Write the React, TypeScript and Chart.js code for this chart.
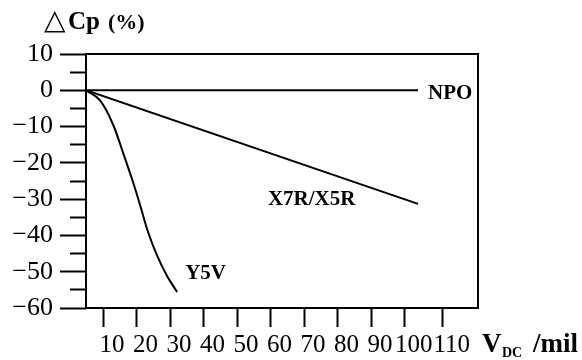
import React, { useEffect, useRef } from "react";
import { Chart, registerables } from "chart.js";

Chart.register(...registerables);

// x tick positions as drawn in the original (its last tick sits a little further right)
const xTickValues = [10, 20, 30, 40, 50, 60, 70, 80, 90, 100, 111.4];
const xTickLabels = ["10", "20", "30", "40", "50", "60", "70", "80", "90", "100", "110"];
const yTicks = [-60, -55, -50, -45, -40, -35, -30, -25, -20, -15, -10, -5, 0, 5, 10];

const npoX = [4.9, 104.0];
const npoY = [0, 0];
const x7rX = [4.9, 104.0];
const x7rY = [0, -31.3];
const y5vX = [4.9, 9.1, 13.0, 16.0, 19.0, 21.0, 23.4, 26.1, 29.1, 32.1];
const y5vY = [0, -2.8, -9.5, -17.3, -25.5, -31.5, -39, -45.5, -51.2, -55.6];

const seriesLabels = [
  { text: "NPO", x: 107.0, y: -0.9 },
  { text: "X7R/X5R", x: 59.2, y: -30.2 },
  { text: "Y5V", x: 34.5, y: -50.4 },
];

const SERIF = '"Liberation Serif", "Times New Roman", serif';

const toPts = (xs: number[], ys: number[]) => xs.map((x, i) => ({ x, y: ys[i] }));

const fmt = (v: number) => (v < 0 ? "\u2212" + Math.abs(v) : String(v));

const decor = {
  id: "decor",
  afterDraw(chart: any) {
    const { ctx, chartArea, scales } = chart;
    ctx.save();
    ctx.strokeStyle = "#000";
    ctx.lineWidth = 2;
    ctx.strokeRect(chartArea.left, chartArea.top, chartArea.right - chartArea.left, chartArea.bottom - chartArea.top);

    ctx.fillStyle = "#000";
    ctx.textBaseline = "middle";
    ctx.textAlign = "left";
    ctx.font = `bold 21px ${SERIF}`;
    for (const l of seriesLabels) {
      ctx.fillText(l.text, scales.x.getPixelForValue(l.x), scales.y.getPixelForValue(l.y));
    }

    ctx.textBaseline = "alphabetic";
    ctx.font = `28px ${SERIF}`;
    ctx.fillText("\u25B3", 44, 29);
    ctx.font = `bold 25px ${SERIF}`;
    ctx.fillText("Cp", 68, 29);
    ctx.font = `bold 22px ${SERIF}`;
    ctx.fillText("(%)", 108, 29);

    ctx.font = `bold 27px ${SERIF}`;
    ctx.fillText("V", 482, 352);
    ctx.font = `bold 14px ${SERIF}`;
    ctx.fillText("DC", 502, 357);
    ctx.font = `bold 27px ${SERIF}`;
    ctx.fillText("/mil", 533, 352);
    ctx.restore();
  },
};

export default function App() {
  const ref = useRef<HTMLCanvasElement>(null);
  useEffect(() => {
    if (!ref.current) return;
    const line = (data: any) => ({
      data,
      borderColor: "#000",
      borderWidth: 2,
      pointRadius: 0,
      fill: false,
      showLine: true,
      cubicInterpolationMode: "monotone" as const,
    });
    const chart = new Chart(ref.current, {
      type: "scatter",
      data: {
        datasets: [line(toPts(npoX, npoY)), line(toPts(x7rX, x7rY)), line(toPts(y5vX, y5vY))],
      },
      options: {
        responsive: false,
        animation: false,
        layout: { padding: { top: 54, right: 104, bottom: 0, left: 0 } },
        plugins: { legend: { display: false }, tooltip: { enabled: false } },
        scales: {
          x: {
            type: "linear",
            min: 4.9,
            max: 121.9,
            afterBuildTicks: (s: any) => {
              s.ticks = xTickValues.map((v) => ({ value: v }));
            },
            afterFit: (s: any) => {
              s.height = 52;
            },
            ticks: {
              color: "#000",
              font: { family: SERIF, size: 25 },
              padding: 3,
              labelOffset: 9,
              maxRotation: 0,
              autoSkip: false,
              callback: (_v: any, i: number) => xTickLabels[i],
            },
            grid: { drawOnChartArea: false, tickLength: 19, tickWidth: 2, tickColor: "#000" },
            border: { display: false },
          },
          y: {
            type: "linear",
            min: -60,
            max: 10,
            afterBuildTicks: (s: any) => {
              s.ticks = yTicks.map((v) => ({ value: v }));
            },
            afterFit: (s: any) => {
              s.width = 86;
            },
            ticks: {
              color: "#000",
              font: { family: SERIF, size: 26 },
              padding: 7,
              autoSkip: false,
              callback: (v: any) => (Number(v) % 10 === 0 ? fmt(Number(v)) : ""),
            },
            grid: {
              drawOnChartArea: false,
              tickLength: 26,
              tickWidth: 2,
              tickColor: "#000",
              tickBorderDash: (c: any) => (c.tick && c.tick.value % 10 !== 0 ? [0, 10, 16, 100] : []),
            } as any,
            border: { display: false },
          },
        },
      },
      plugins: [decor],
    });
    return () => chart.destroy();
  }, []);
  return (
    <div style={{ position: "fixed", left: 0, top: 0, width: 582, height: 360, background: "#fff" }}>
      <canvas ref={ref} width={582} height={360} style={{ display: "block" }} />
    </div>
  );
}
